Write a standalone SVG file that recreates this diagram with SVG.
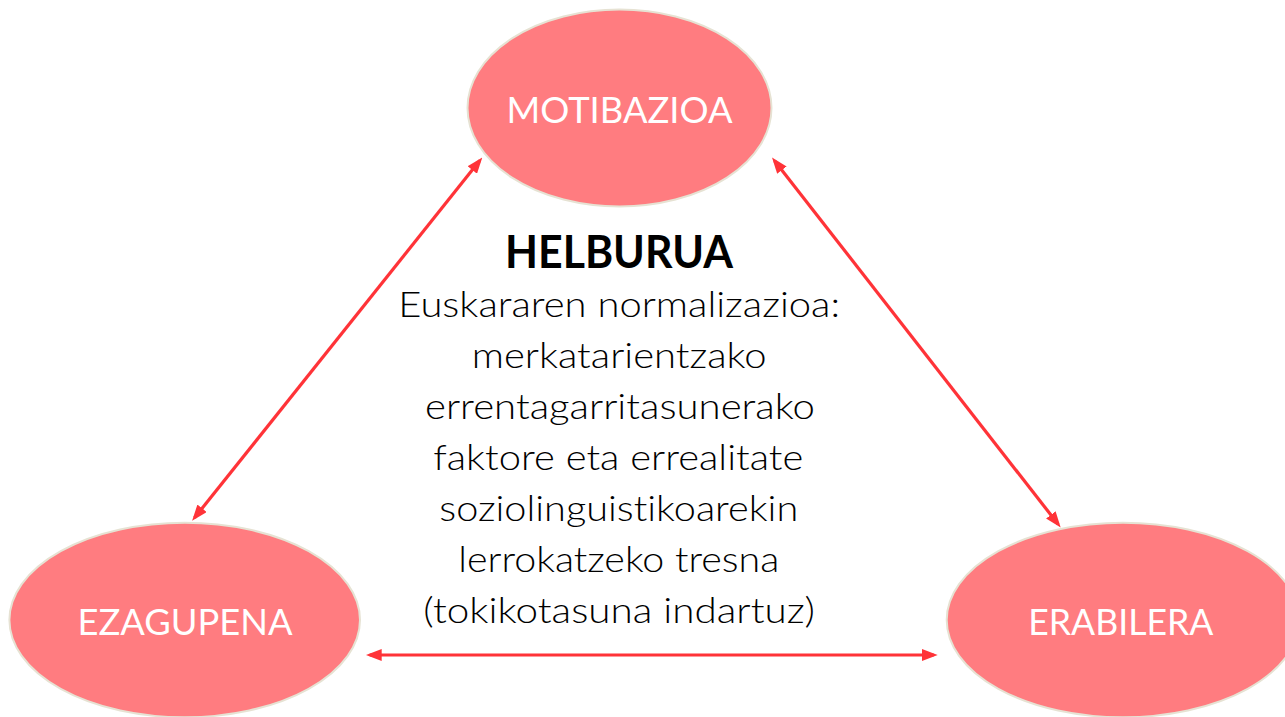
<svg xmlns="http://www.w3.org/2000/svg" width="1285" height="717" viewBox="0 0 1285 717">
  <style>
    text { font-variant-ligatures: none; font-feature-settings: "liga" 0; }
    .node { fill: #FF7C80; stroke: #E6E2D3; stroke-width: 2; }
    .label { font-family: Lato, "Open Sans", "Liberation Sans", sans-serif; font-size: 36px; fill: #FFFFFF; text-anchor: middle; }
    .conn { stroke: #FF3338; stroke-width: 3.2; fill: none; marker-start: url(#arrow); marker-end: url(#arrow); }
    .title { font-family: Lato, "Open Sans", "Liberation Sans", sans-serif; font-size: 46px; font-weight: bold; fill: #000000; text-anchor: middle; }
    .body { font-family: Lato, "Open Sans", "Liberation Sans", sans-serif; font-size: 35px; font-weight: 300; fill: #000000; text-anchor: middle; }
  </style>
  <defs>
    <marker id="arrow" viewBox="0 0 16 12" markerUnits="userSpaceOnUse" markerWidth="16" markerHeight="12" refX="12" refY="6" orient="auto-start-reverse">
      <path d="M0,0 L16,6 L0,12 z" fill="#FF3338"/>
    </marker>
  </defs>
  <rect width="1285" height="717" fill="#FFFFFF"/>

  <g id="connectors">
    <line class="conn" x1="479.8" y1="160.6" x2="194.6" y2="517.7"/>
    <line class="conn" x1="774.5" y1="160.7" x2="1058.2" y2="524.3"/>
    <line class="conn" x1="369.7" y1="655" x2="933.7" y2="655"/>
  </g>

  <g id="motibazioa">
    <ellipse class="node" cx="619.5" cy="108" rx="152" ry="98.5"/>
    <text class="label" x="619.5" y="122.7" textLength="226" lengthAdjust="spacingAndGlyphs">MOTIBAZIOA</text>
  </g>

  <g id="ezagupena">
    <ellipse class="node" cx="184.7" cy="620" rx="175.3" ry="97.3"/>
    <text class="label" x="185" y="635" textLength="215" lengthAdjust="spacingAndGlyphs">EZAGUPENA</text>
  </g>

  <g id="erabilera">
    <ellipse class="node" cx="1123" cy="620" rx="176.3" ry="97.3"/>
    <text class="label" x="1120.8" y="635" textLength="185" lengthAdjust="spacingAndGlyphs">ERABILERA</text>
  </g>

  <g id="helburua">
    <text class="title" x="619" y="267.7" textLength="228" lengthAdjust="spacingAndGlyphs">HELBURUA</text>
    <text class="body" x="619.2" y="316.7" textLength="441.7" lengthAdjust="spacingAndGlyphs">Euskararen normalizazioa:</text>
    <text class="body" x="619.2" y="367.7" textLength="295" lengthAdjust="spacingAndGlyphs">merkatarientzako</text>
    <text class="body" x="620" y="419" textLength="390" lengthAdjust="spacingAndGlyphs">errentagarritasunerako</text>
    <text class="body" x="618.3" y="470" textLength="370" lengthAdjust="spacingAndGlyphs">faktore eta errealitate</text>
    <text class="body" x="618.8" y="521" textLength="359" lengthAdjust="spacingAndGlyphs">soziolinguistikoarekin</text>
    <text class="body" x="618.8" y="572" textLength="321" lengthAdjust="spacingAndGlyphs">lerrokatzeko tresna</text>
    <text class="body" x="619.2" y="622.5" textLength="391.7" lengthAdjust="spacingAndGlyphs">(tokikotasuna indartuz)</text>
  </g>
</svg>
